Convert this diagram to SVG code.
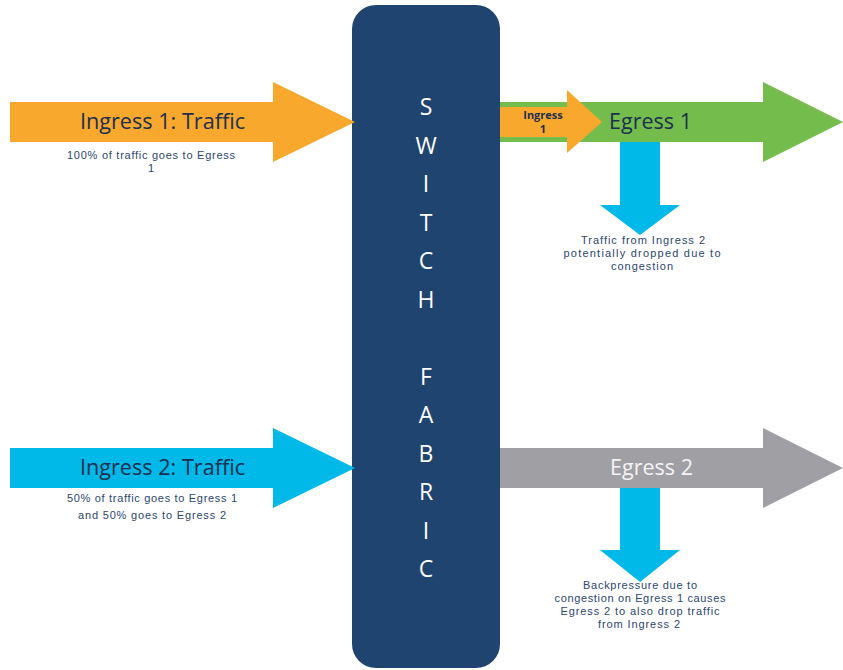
<svg xmlns="http://www.w3.org/2000/svg" width="843" height="670" viewBox="0 0 843 670">
  <style>
    .lbl { font-family: "Open Sans", "Liberation Sans", sans-serif; fill: #1c2f4f; }
    .big { font-size: 21px; }
    .note { font-family: "Liberation Sans", Arial, sans-serif; font-size: 11px; fill: #2c4670; text-anchor: middle; }
    .fab { font-family: "Open Sans", "Liberation Sans", sans-serif; font-size: 23px; fill: #ffffff; text-anchor: middle; }
  </style>
  <rect width="843" height="670" fill="#ffffff"/>

  <!-- central switch fabric block -->
  <g id="switch-fabric">
    <rect x="352" y="5" width="148" height="663" rx="24" ry="24" fill="#1f446f"/>
    <text class="fab" x="426" y="115">S</text>
    <text class="fab" x="426" y="154">W</text>
    <text class="fab" x="426" y="192">I</text>
    <text class="fab" x="426" y="231">T</text>
    <text class="fab" x="426" y="269">C</text>
    <text class="fab" x="426" y="308">H</text>
    <text class="fab" x="426" y="385">F</text>
    <text class="fab" x="426" y="423">A</text>
    <text class="fab" x="426" y="462">B</text>
    <text class="fab" x="426" y="500">R</text>
    <text class="fab" x="426" y="539">I</text>
    <text class="fab" x="426" y="577">C</text>
  </g>

  <!-- ingress side -->
  <g id="ingress-1">
    <polygon points="10,102 273,102 273,82 355,122 273,162 273,142 10,142" fill="#f9a82e"/>
    <text class="lbl big" x="80" y="129" textLength="165" lengthAdjust="spacingAndGlyphs">Ingress 1: Traffic</text>
    <text class="note" x="151" y="159" textLength="168" lengthAdjust="spacing">100% of traffic goes to Egress</text>
    <text class="note" x="151" y="172">1</text>
  </g>

  <g id="ingress-2">
    <polygon points="10,448 273,448 273,428 355,468 273,508 273,488 10,488" fill="#00b9e8"/>
    <text class="lbl big" x="80" y="475" textLength="165" lengthAdjust="spacingAndGlyphs">Ingress 2: Traffic</text>
    <text class="note" x="152" y="502" textLength="170" lengthAdjust="spacing">50% of traffic goes to Egress 1</text>
    <text class="note" x="152" y="519" textLength="148" lengthAdjust="spacing">and 50% goes to Egress 2</text>
  </g>

  <!-- egress side -->
  <g id="egress-1">
    <polygon points="500,102 763,102 763,82 843,122 763,162 763,142 500,142" fill="#74bc4c"/>
    <polygon points="500,107 567,107 567,90 602,122 567,153 567,137 500,137" fill="#f9a82e"/>
    <text class="lbl" x="543" y="119" text-anchor="middle" font-size="11" font-weight="bold">Ingress</text>
    <text class="lbl" x="543" y="133" text-anchor="middle" font-size="11" font-weight="bold">1</text>
    <text class="lbl big" x="609" y="129" textLength="83" lengthAdjust="spacingAndGlyphs">Egress 1</text>
  </g>

  <g id="drop-1">
    <polygon points="620,142 660,142 660,205 680,205 640,235 600,205 620,205" fill="#00b9e8"/>
    <text class="note" x="643" y="244" textLength="124" lengthAdjust="spacing">Traffic from Ingress 2</text>
    <text class="note" x="642" y="257" textLength="157" lengthAdjust="spacing">potentially dropped due to</text>
    <text class="note" x="642" y="270" textLength="62" lengthAdjust="spacing">congestion</text>
  </g>

  <g id="egress-2">
    <polygon points="500,448 763,448 763,428 843,468 763,508 763,488 500,488" fill="#a09fa4"/>
    <text class="lbl big" x="610" y="475" textLength="83" lengthAdjust="spacingAndGlyphs" style="fill:#f4f4f4">Egress 2</text>
  </g>

  <g id="drop-2">
    <polygon points="620,488 660,488 660,550 680,550 640,582 600,550 620,550" fill="#00b9e8"/>
    <text class="note" x="640" y="589" textLength="114" lengthAdjust="spacing">Backpressure due to</text>
    <text class="note" x="640" y="602" textLength="171" lengthAdjust="spacing">congestion on Egress 1 causes</text>
    <text class="note" x="640" y="615" textLength="159" lengthAdjust="spacing">Egress 2 to also drop traffic</text>
    <text class="note" x="639" y="628" textLength="82" lengthAdjust="spacing">from Ingress 2</text>
  </g>

  <g id="connectors"></g>
</svg>
